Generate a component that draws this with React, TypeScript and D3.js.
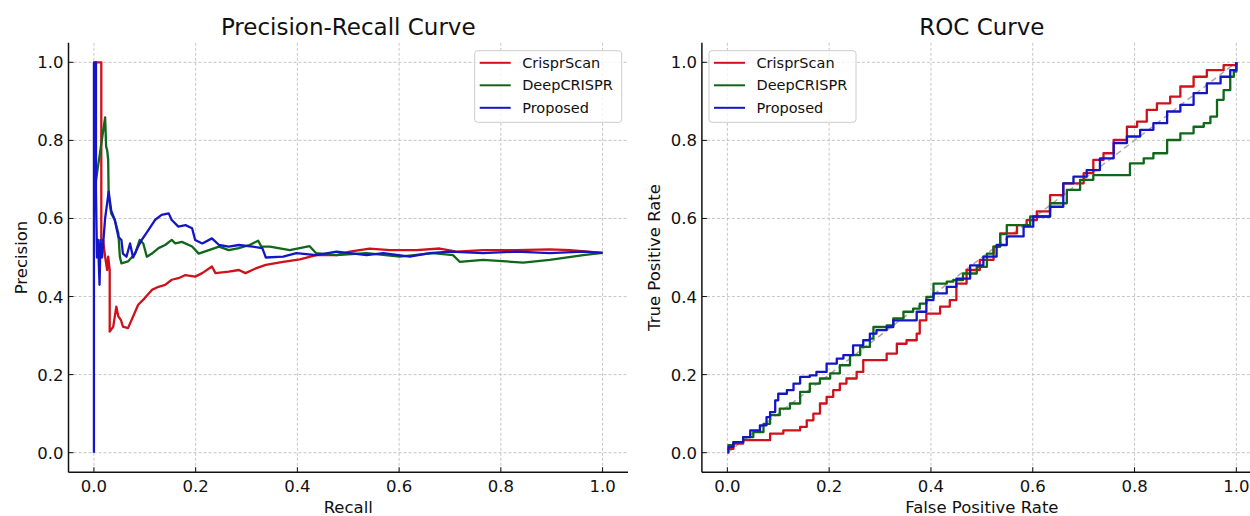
import * as d3 from "d3";

// canvas size
const W = 1250;
const H = 516;
const FONT = "'DejaVu Sans', sans-serif";

// tick values (shared by both panels)
const ticks = [0, 0.2, 0.4, 0.6, 0.8, 1.0];
const tickLabels = ["0.0", "0.2", "0.4", "0.6", "0.8", "1.0"];
const seriesNames = ["CrisprScan", "DeepCRISPR", "Proposed"];
const seriesColors = ["#cf111b", "#10661a", "#1515c8"];

// precision-recall curves: [recall, precision]
const prCrisprScan: [number, number][] = [
  [0.002, 1.0], [0.0145, 1.0], [0.0145, 0.545], [0.018, 0.545], [0.022, 0.502], [0.026, 0.468],
  [0.028, 0.502], [0.031, 0.468], [0.031, 0.31], [0.038, 0.323], [0.044, 0.374], [0.048, 0.349],
  [0.053, 0.34], [0.057, 0.323], [0.067, 0.319], [0.077, 0.349], [0.087, 0.379], [0.1, 0.396],
  [0.114, 0.417], [0.127, 0.425], [0.14, 0.43], [0.153, 0.443], [0.166, 0.447], [0.18, 0.455],
  [0.199, 0.451], [0.213, 0.46], [0.232, 0.477], [0.239, 0.46], [0.265, 0.464], [0.285, 0.468],
  [0.298, 0.46], [0.318, 0.472], [0.338, 0.481], [0.372, 0.489], [0.405, 0.495], [0.437, 0.506],
  [0.477, 0.506], [0.503, 0.515], [0.542, 0.523], [0.582, 0.519], [0.634, 0.519], [0.68, 0.523],
  [0.713, 0.515], [0.765, 0.519], [0.831, 0.519], [0.896, 0.521], [0.936, 0.519], [1.0, 0.512],
];

const prDeepCrispr: [number, number][] = [
  [0.001, 1.0], [0.001, 0.67], [0.022, 0.859], [0.024, 0.784], [0.026, 0.775], [0.028, 0.75],
  [0.029, 0.656], [0.034, 0.613], [0.041, 0.596], [0.048, 0.562], [0.051, 0.502], [0.054, 0.485],
  [0.067, 0.49], [0.081, 0.51], [0.09, 0.545], [0.097, 0.536], [0.104, 0.502], [0.114, 0.51],
  [0.127, 0.524], [0.14, 0.532], [0.153, 0.545], [0.16, 0.536], [0.173, 0.54], [0.193, 0.528],
  [0.206, 0.51], [0.226, 0.519], [0.246, 0.528], [0.265, 0.519], [0.285, 0.524], [0.306, 0.532],
  [0.323, 0.543], [0.329, 0.528], [0.346, 0.528], [0.385, 0.519], [0.424, 0.529], [0.437, 0.511],
  [0.477, 0.506], [0.536, 0.511], [0.601, 0.502], [0.667, 0.511], [0.706, 0.506], [0.719, 0.489],
  [0.765, 0.494], [0.844, 0.487], [0.896, 0.494], [0.962, 0.506], [1.0, 0.512],
];

const prProposed: [number, number][] = [
  [0, 0], [0, 1.0], [0.004, 1.0], [0.004, 0.67], [0.006, 0.5], [0.008, 0.545], [0.011, 0.43],
  [0.013, 0.545], [0.016, 0.5], [0.022, 0.6], [0.029, 0.669], [0.034, 0.62], [0.041, 0.596],
  [0.048, 0.553], [0.054, 0.545], [0.057, 0.51], [0.064, 0.502], [0.071, 0.536], [0.077, 0.5],
  [0.087, 0.528], [0.094, 0.545], [0.107, 0.57], [0.12, 0.596], [0.133, 0.609], [0.147, 0.613],
  [0.153, 0.596], [0.166, 0.579], [0.18, 0.583], [0.193, 0.575], [0.199, 0.545], [0.213, 0.536],
  [0.232, 0.549], [0.246, 0.532], [0.265, 0.528], [0.285, 0.532], [0.312, 0.528], [0.331, 0.524],
  [0.338, 0.5], [0.372, 0.502], [0.398, 0.511], [0.437, 0.506], [0.477, 0.515], [0.503, 0.511],
  [0.536, 0.506], [0.569, 0.511], [0.621, 0.502], [0.66, 0.511], [0.7, 0.515], [0.765, 0.511],
  [0.831, 0.515], [0.896, 0.511], [0.962, 0.515], [1.0, 0.512],
];

// ROC curves: [fpr, tpr]
const rocCrisprScan: [number, number][] = [
  [0, 0.01], [0.012, 0.023], [0.031, 0.032], [0.071, 0.032], [0.084, 0.049], [0.11, 0.057],
  [0.143, 0.066], [0.156, 0.083], [0.169, 0.1], [0.182, 0.126], [0.195, 0.143], [0.208, 0.16],
  [0.221, 0.177], [0.234, 0.19], [0.254, 0.207], [0.267, 0.237], [0.293, 0.237], [0.313, 0.254],
  [0.333, 0.279], [0.352, 0.288], [0.372, 0.305], [0.378, 0.339], [0.391, 0.356], [0.418, 0.374],
  [0.437, 0.391], [0.45, 0.433], [0.47, 0.468], [0.496, 0.494], [0.523, 0.528], [0.536, 0.562],
  [0.569, 0.583], [0.588, 0.596], [0.608, 0.618], [0.634, 0.66], [0.66, 0.69], [0.68, 0.69],
  [0.7, 0.716], [0.719, 0.75], [0.739, 0.767], [0.759, 0.801], [0.785, 0.835], [0.805, 0.848],
  [0.824, 0.878], [0.844, 0.895], [0.87, 0.912], [0.89, 0.938], [0.916, 0.963], [0.942, 0.98],
  [0.975, 0.993], [0.995, 0.993], [1, 1],
];

const rocDeepCrispr: [number, number][] = [
  [0, 0.019], [0.012, 0.027], [0.031, 0.04], [0.051, 0.053], [0.071, 0.074], [0.084, 0.096],
  [0.103, 0.113], [0.123, 0.126], [0.143, 0.156], [0.162, 0.177], [0.182, 0.19], [0.202, 0.203],
  [0.221, 0.224], [0.241, 0.25], [0.261, 0.271], [0.28, 0.292], [0.287, 0.322], [0.313, 0.326],
  [0.326, 0.344], [0.346, 0.361], [0.365, 0.369], [0.378, 0.382], [0.391, 0.399], [0.405, 0.433],
  [0.431, 0.438], [0.444, 0.442], [0.463, 0.459], [0.49, 0.476], [0.51, 0.51], [0.523, 0.528],
  [0.536, 0.56], [0.549, 0.583], [0.595, 0.605], [0.634, 0.639], [0.667, 0.673], [0.693, 0.699],
  [0.719, 0.711], [0.759, 0.711], [0.791, 0.741], [0.818, 0.754], [0.837, 0.767], [0.864, 0.801],
  [0.89, 0.818], [0.916, 0.835], [0.936, 0.844], [0.949, 0.861], [0.962, 0.904], [0.975, 0.929],
  [0.988, 0.963], [0.995, 0.976], [1, 1],
];

const rocProposed: [number, number][] = [
  [0, 0], [0.002, 0.015], [0.012, 0.027], [0.031, 0.04], [0.045, 0.057], [0.064, 0.07],
  [0.077, 0.091], [0.084, 0.104], [0.094, 0.134], [0.1, 0.151], [0.117, 0.16], [0.13, 0.177],
  [0.143, 0.194], [0.162, 0.198], [0.175, 0.207], [0.195, 0.228], [0.215, 0.241], [0.228, 0.25],
  [0.247, 0.275], [0.267, 0.288], [0.28, 0.305], [0.293, 0.314], [0.313, 0.322], [0.326, 0.339],
  [0.352, 0.339], [0.372, 0.361], [0.391, 0.391], [0.405, 0.408], [0.431, 0.425], [0.45, 0.446],
  [0.477, 0.48], [0.503, 0.502], [0.529, 0.532], [0.549, 0.554], [0.582, 0.579], [0.601, 0.605],
  [0.634, 0.63], [0.66, 0.69], [0.68, 0.707], [0.706, 0.724], [0.732, 0.754], [0.759, 0.793],
  [0.785, 0.81], [0.811, 0.827], [0.837, 0.844], [0.864, 0.874], [0.89, 0.891], [0.916, 0.921],
  [0.942, 0.946], [0.969, 0.963], [0.988, 0.98], [1, 1],
];

const chanceLine: [number, number][] = [[0, 0], [1, 1]];

// axes frame (pixels)
const yTop = 42.8;
const yBottom = 472.2;

type PanelProps = {
  left: number;
  right: number;
  clipRight: number;
  title: string;
  xLabel: string;
  yLabel: string;
  yLabelX: number;
  series: [number, number][][];
  legendX: number;
  step: boolean;
  diagonal: boolean;
};

function Panel({ left, right, clipRight, title, xLabel, yLabel, yLabelX, series, legendX, step, diagonal }: PanelProps) {
  const x = d3.scaleLinear().domain([-0.05, 1.05]).range([left, right]);
  const y = d3.scaleLinear().domain([-0.05, 1.05]).range([yBottom, yTop]);

  const line = d3.line<[number, number]>()
    .x(d => x(d[0]))
    .y(d => y(d[1]))
    .curve(step ? d3.curveStepAfter : d3.curveLinear);

  const cx = (left + right) / 2;
  const endX = Math.min(right, clipRight);

  return (
    <g>
      {/* grid */}
      {ticks.map(t => (
        <line key={"gx" + t} x1={x(t)} x2={x(t)} y1={yTop} y2={yBottom}
          stroke="#b8b8b8" strokeWidth={0.8} strokeDasharray="3,2" />
      ))}
      {ticks.map(t => (
        <line key={"gy" + t} x1={left} x2={endX} y1={y(t)} y2={y(t)}
          stroke="#b8b8b8" strokeWidth={0.8} strokeDasharray="3,2" />
      ))}

      {diagonal && (
        <path d={d3.line<[number, number]>().x(d => x(d[0])).y(d => y(d[1]))(chanceLine) || ""}
          fill="none" stroke="#a8a8a8" strokeWidth={1.5} strokeDasharray="6,4" />
      )}

      {/* curves */}
      {series.map((s, i) => (
        <path key={seriesNames[i]} d={line(s) || ""} fill="none"
          stroke={seriesColors[i]} strokeWidth={2.3} strokeLinejoin="round" />
      ))}

      {/* spines */}
      <line x1={left} x2={left} y1={yTop} y2={yBottom} stroke="#111" strokeWidth={1.5} />
      <line x1={left} x2={endX} y1={yBottom} y2={yBottom} stroke="#111" strokeWidth={1.5} />

      {/* ticks, pointing inward */}
      {ticks.map((t, i) => (
        <g key={"tx" + t}>
          <line x1={x(t)} x2={x(t)} y1={yBottom} y2={yBottom - 5} stroke="#111" strokeWidth={1} />
          <text x={x(t)} y={491.5} textAnchor="middle" fontSize={16.5} fontFamily={FONT} fill="#111">
            {tickLabels[i]}
          </text>
        </g>
      ))}
      {ticks.map((t, i) => (
        <g key={"ty" + t}>
          <line x1={left} x2={left + 5} y1={y(t)} y2={y(t)} stroke="#111" strokeWidth={1} />
          <text x={left - 5} y={y(t) + 6} textAnchor="end" fontSize={16.5} fontFamily={FONT} fill="#111">
            {tickLabels[i]}
          </text>
        </g>
      ))}

      {/* labels */}
      <text x={cx} y={34.5} textAnchor="middle" fontSize={23} fontFamily={FONT} fill="#111">{title}</text>
      <text x={cx} y={513} textAnchor="middle" fontSize={16.5} fontFamily={FONT} fill="#111">{xLabel}</text>
      <text transform={`translate(${yLabelX},${(yTop + yBottom) / 2}) rotate(-90)`} textAnchor="middle"
        fontSize={16.5} fontFamily={FONT} fill="#111">{yLabel}</text>

      {/* legend */}
      <rect x={legendX} y={50.7} width={147} height={71.6} rx={3} fill="white" fillOpacity={0.8}
        stroke="#cccccc" strokeWidth={1} />
      {seriesNames.map((name, i) => {
        const ry = 62.8 + i * 22.5;
        return (
          <g key={"lg" + name}>
            <line x1={legendX + 5} x2={legendX + 36} y1={ry} y2={ry} stroke={seriesColors[i]} strokeWidth={2} />
            <text x={legendX + 47.5} y={ry + 5} fontSize={14.5} fontFamily={FONT} fill="#111">{name}</text>
          </g>
        );
      })}
    </g>
  );
}

export default function App() {
  return (
    <svg width={W} height={H} style={{ position: "absolute", left: 0, top: 0, background: "white" }}>
      <rect width={W} height={H} fill="white" />
      <Panel left={68.5} right={628} clipRight={629} title="Precision-Recall Curve" xLabel="Recall"
        yLabel="Precision" yLabelX={26.5} series={[prCrisprScan, prDeepCrispr, prProposed]}
        legendX={474.7} step={false} diagonal={false} />
      <Panel left={701.9} right={1261.8} clipRight={W} title="ROC Curve" xLabel="False Positive Rate"
        yLabel="True Positive Rate" yLabelX={660} series={[rocCrisprScan, rocDeepCrispr, rocProposed]}
        legendX={709} step={true} diagonal={true} />
    </svg>
  );
}
